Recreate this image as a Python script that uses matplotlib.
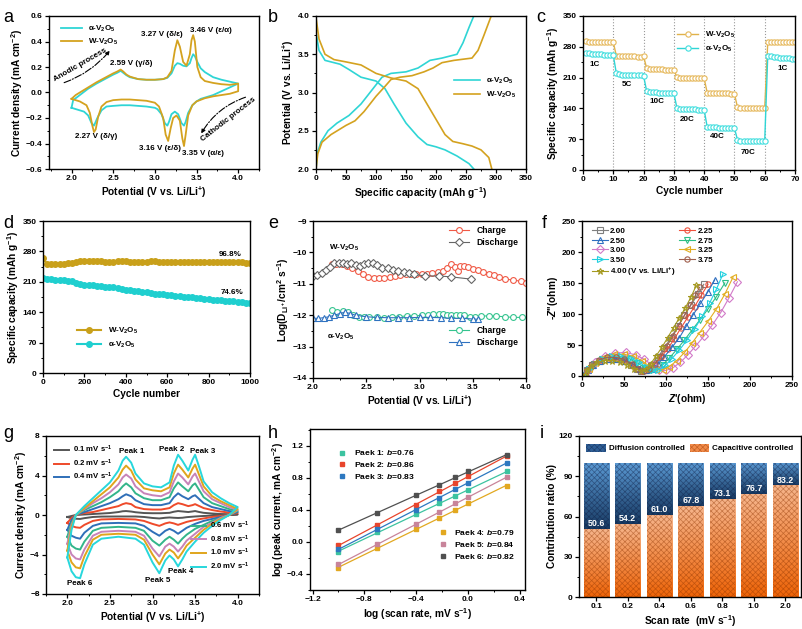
import numpy as np
import matplotlib
matplotlib.use('Agg')
import matplotlib.pyplot as plt
from matplotlib.patches import Patch
from matplotlib.colors import LinearSegmentedColormap
from matplotlib.ticker import AutoMinorLocator

plt.rcParams['font.family'] = ['Liberation Sans', 'DejaVu Sans']
plt.rcParams['font.weight'] = 'bold'
plt.rcParams['axes.labelweight'] = 'bold'
plt.rcParams['mathtext.fontset'] = 'custom'
plt.rcParams['mathtext.rm'] = 'Liberation Sans:bold'
plt.rcParams['mathtext.bf'] = 'Liberation Sans:bold'
plt.rcParams['mathtext.it'] = 'Liberation Sans:bold:italic'
plt.rcParams['mathtext.default'] = 'rm'
plt.rcParams['axes.linewidth'] = 1.0
plt.rcParams['hatch.linewidth'] = 0.5

CYAN = '#2fd5d5'
GOLD = '#d4a21f'

# ---------------- a: CV of the two samples ----------------
w_up_x = [2.0, 2.05, 2.1, 2.2, 2.3, 2.4, 2.5, 2.55, 2.59, 2.62, 2.66, 2.7, 2.8, 2.9, 3.0, 3.1, 3.15, 3.2, 3.24, 3.27, 3.3, 3.34, 3.38, 3.42, 3.44, 3.46, 3.48, 3.51, 3.55, 3.6, 3.7, 3.8, 3.9, 4.0]
w_up_y = [-0.05, -0.02, 0.0, 0.04, 0.08, 0.115, 0.15, 0.165, 0.18, 0.165, 0.14, 0.125, 0.105, 0.1, 0.1, 0.105, 0.12, 0.17, 0.33, 0.41, 0.36, 0.24, 0.21, 0.3, 0.41, 0.45, 0.4, 0.2, 0.12, 0.09, 0.075, 0.065, 0.06, 0.07]
w_dn_x = [4.0, 4.0, 3.9, 3.8, 3.7, 3.6, 3.5, 3.45, 3.4, 3.37, 3.35, 3.33, 3.3, 3.26, 3.22, 3.19, 3.16, 3.13, 3.1, 3.05, 3.0, 2.9, 2.8, 2.7, 2.6, 2.5, 2.42, 2.36, 2.32, 2.29, 2.27, 2.25, 2.22, 2.18, 2.1, 2.0]
w_dn_y = [0.07, 0.01, -0.01, -0.02, -0.03, -0.045, -0.07, -0.1, -0.18, -0.33, -0.42, -0.36, -0.22, -0.18, -0.2, -0.28, -0.38, -0.33, -0.2, -0.11, -0.08, -0.065, -0.06, -0.055, -0.055, -0.06, -0.075, -0.11, -0.19, -0.29, -0.31, -0.26, -0.16, -0.1, -0.07, -0.05]
a_up_x = [2.0, 2.02, 2.1, 2.2, 2.3, 2.4, 2.5, 2.55, 2.59, 2.62, 2.66, 2.7, 2.8, 2.9, 3.0, 3.1, 3.15, 3.2, 3.24, 3.27, 3.3, 3.34, 3.38, 3.42, 3.44, 3.46, 3.48, 3.51, 3.55, 3.6, 3.7, 3.8, 3.9, 4.0]
a_up_y = [-0.12, -0.06, -0.02, 0.03, 0.07, 0.105, 0.14, 0.155, 0.17, 0.155, 0.135, 0.12, 0.105, 0.1, 0.1, 0.105, 0.115, 0.15, 0.21, 0.23, 0.225, 0.21, 0.205, 0.23, 0.27, 0.3, 0.285, 0.24, 0.19, 0.16, 0.12, 0.1, 0.085, 0.07]
a_dn_x = [4.0, 3.9, 3.8, 3.7, 3.6, 3.55, 3.5, 3.45, 3.4, 3.37, 3.35, 3.32, 3.28, 3.24, 3.2, 3.17, 3.15, 3.12, 3.08, 3.03, 3.0, 2.9, 2.8, 2.7, 2.6, 2.5, 2.42, 2.36, 2.31, 2.27, 2.24, 2.2, 2.15, 2.1, 2.05, 2.0]
a_dn_y = [0.07, 0.04, 0.01, -0.02, -0.04, -0.05, -0.07, -0.1, -0.16, -0.23, -0.26, -0.24, -0.17, -0.15, -0.17, -0.23, -0.26, -0.24, -0.17, -0.13, -0.12, -0.11, -0.105, -0.1, -0.1, -0.105, -0.11, -0.14, -0.2, -0.26, -0.24, -0.18, -0.15, -0.14, -0.13, -0.12]

# ---------------- b: charge / discharge ----------------
b_wd_x = [0, 5, 15, 30, 50, 75, 100, 125, 150, 170, 185, 200, 215, 228, 245, 260, 275, 288, 293]
b_wd_y = [3.98, 3.7, 3.5, 3.43, 3.4, 3.36, 3.25, 3.19, 3.15, 3.05, 2.85, 2.65, 2.45, 2.36, 2.33, 2.3, 2.25, 2.15, 2.0]
b_wc_x = [0, 3, 10, 25, 50, 65, 80, 100, 115, 125, 140, 160, 180, 195, 210, 230, 260, 270, 280, 292]
b_wc_y = [2.0, 2.2, 2.35, 2.45, 2.57, 2.63, 2.75, 2.95, 3.08, 3.17, 3.2, 3.22, 3.27, 3.32, 3.39, 3.42, 3.45, 3.55, 3.75, 4.0]
b_ad_x = [0, 5, 15, 40, 55, 75, 100, 115, 130, 150, 170, 185, 200, 215, 235, 255, 263]
b_ad_y = [3.78, 3.55, 3.42, 3.37, 3.3, 3.2, 3.15, 3.05, 2.85, 2.6, 2.42, 2.32, 2.29, 2.25, 2.17, 2.07, 2.0]
b_ac_x = [0, 2, 8, 20, 35, 55, 75, 95, 110, 125, 150, 170, 190, 210, 235, 245, 255, 263]
b_ac_y = [2.0, 2.2, 2.35, 2.5, 2.6, 2.7, 2.85, 3.05, 3.2, 3.25, 3.27, 3.32, 3.42, 3.45, 3.5, 3.65, 3.85, 4.0]

# ---------------- c: rate performance ----------------
cycles_c = list(range(1, 71))
rate_w = [293, 292, 292, 292, 291, 291, 291, 291, 290, 290,
          260, 258, 258, 258, 258, 258, 258, 257, 257, 258,
          232, 229, 229, 229, 229, 229, 228, 228, 228, 228,
          211, 210, 210, 210, 209, 209, 209, 209, 209, 208,
          176, 175, 175, 174, 174, 174, 174, 174, 173, 173,
          143, 141, 141, 140, 140, 140, 140, 140, 140, 140,
          290, 292, 292, 292, 292, 292, 292, 292, 292, 292]
rate_a = [266, 265, 264, 264, 263, 263, 262, 262, 261, 261,
          220, 218, 217, 217, 216, 216, 215, 215, 215, 214,
          180, 178, 177, 177, 176, 176, 176, 175, 175, 175,
          141, 139, 138, 138, 138, 138, 138, 137, 137, 137,
          98, 97, 97, 97, 96, 96, 96, 96, 96, 95,
          69, 67, 67, 66, 66, 66, 66, 66, 66, 66,
          260, 258, 257, 256, 255, 255, 254, 254, 253, 252]
rate_labels = ['1C', '5C', '10C', '20C', '40C', '70C', '1C']
rate_lab_x = [4, 14.5, 24.5, 34.5, 44.5, 54.5, 66]
rate_lab_y = [240, 195, 155, 115, 75, 40, 230]

# ---------------- d: long cycling ----------------
cyc_d = list(range(0, 1001, 20))
cap_w = [265, 250, 250, 251, 252, 252, 253, 253, 255, 257, 257, 258, 258, 257, 257, 256, 256,
         256, 257, 258, 257, 256, 256, 256, 256, 256, 257, 257, 256, 256, 256, 256, 256, 256,
         255, 255, 256, 256, 256, 256, 256, 255, 255, 256, 256, 255, 255, 256, 255, 254, 253]
cap_a = [218, 217, 216, 215, 214, 213, 212, 211, 208, 204, 203, 203, 202, 201, 200, 199, 198,
         197, 196, 194, 192, 190, 189, 188, 187, 186, 185, 183, 182, 181, 180, 179, 178, 177,
         176, 175, 174, 173, 172, 171, 170, 169, 168, 167, 166, 166, 165, 164, 163, 162, 162]

# ---------------- e: diffusion coefficient ----------------
e_wc_x = [2.18, 2.22, 2.27, 2.32, 2.37, 2.42, 2.47, 2.52, 2.57, 2.62, 2.67, 2.72, 2.77, 2.82, 2.87, 2.92, 2.97, 3.02, 3.07, 3.12, 3.17, 3.22, 3.26, 3.3, 3.33, 3.36, 3.38, 3.42, 3.46, 3.5, 3.55, 3.6, 3.65, 3.7, 3.75, 3.8, 3.88, 3.95, 4.0]
e_wc_y = [-10.38, -10.37, -10.38, -10.42, -10.5, -10.58, -10.68, -10.78, -10.8, -10.8, -10.82, -10.78, -10.75, -10.72, -10.7, -10.7, -10.7, -10.68, -10.68, -10.65, -10.62, -10.58, -10.5, -10.38, -10.45, -10.6, -10.42, -10.42, -10.48, -10.52, -10.55, -10.62, -10.68, -10.72, -10.78, -10.85, -10.88, -10.92, -10.98]
e_wd_x = [2.0, 2.04, 2.08, 2.12, 2.16, 2.2, 2.24, 2.28, 2.32, 2.36, 2.4, 2.44, 2.48, 2.52, 2.56, 2.6, 2.65, 2.7, 2.75, 2.8, 2.85, 2.9, 2.95, 3.05, 3.18, 3.3, 3.48]
e_wd_y = [-10.75, -10.73, -10.65, -10.55, -10.45, -10.35, -10.33, -10.35, -10.38, -10.35, -10.4, -10.42, -10.38, -10.33, -10.35, -10.4, -10.5, -10.5, -10.55, -10.58, -10.62, -10.66, -10.7, -10.75, -10.75, -10.78, -10.85]
e_ac_x = [2.18, 2.23, 2.28, 2.33, 2.38, 2.43, 2.48, 2.53, 2.6, 2.67, 2.74, 2.81, 2.88, 2.95, 3.02, 3.08, 3.13, 3.18, 3.22, 3.26, 3.3, 3.34, 3.38, 3.42, 3.47, 3.52, 3.58, 3.65, 3.72, 3.8, 3.88, 3.96]
e_ac_y = [-11.82, -11.9, -11.88, -11.9, -12.0, -12.05, -12.07, -12.07, -12.07, -12.08, -12.05, -12.05, -12.02, -12.03, -12.0, -11.98, -11.97, -11.95, -11.97, -11.98, -11.98, -11.99, -11.98, -12.0, -12.05, -12.05, -12.03, -12.02, -12.03, -12.05, -12.07, -12.07]
e_ad_x = [2.0, 2.05, 2.1, 2.15, 2.2, 2.25, 2.3, 2.35, 2.4, 2.5, 2.6, 2.7, 2.8, 2.9, 3.0, 3.1, 3.2, 3.3, 3.4, 3.5, 3.55]
e_ad_y = [-12.1, -12.1, -12.08, -12.05, -12.0, -11.95, -11.9, -11.95, -12.0, -12.05, -12.07, -12.08, -12.08, -12.08, -12.07, -12.07, -12.08, -12.1, -12.1, -12.12, -12.13]

# ---------------- f: EIS ----------------
eis_labels = ['2.00', '2.25', '2.50', '2.75', '3.00', '3.25', '3.50', '3.75', '4.00 (V vs. Li/Li$^{+}$)']
eis_colors = ['#7f7f7f', '#f0503c', '#2f6fc0', '#2fbf86', '#d27ac8', '#e3ae22', '#22d0e0', '#a0604e', '#a59a22']
eis_markers = ['s', 'o', '^', 'v', 'D', '<', '>', 'o', '*']
eis_x = [
    [3, 6, 12, 20, 30, 40, 50, 58, 65, 70, 75, 82, 90, 98, 106, 114, 122, 130, 138, 145],
    [4, 7, 13, 21, 31, 41, 51, 59, 66, 72, 78, 86, 94, 102, 110, 118, 126, 134, 142, 150],
    [4, 7, 13, 22, 32, 42, 52, 61, 69, 76, 82, 90, 98, 107, 116, 124, 132, 141, 150, 158],
    [4, 8, 14, 24, 35, 46, 56, 66, 75, 82, 88, 96, 104, 113, 122, 131, 140, 150, 160, 170],
    [4, 8, 16, 27, 39, 52, 64, 74, 84, 92, 100, 108, 117, 126, 135, 145, 155, 165, 175, 185],
    [4, 8, 15, 26, 38, 50, 61, 71, 80, 88, 96, 104, 113, 122, 131, 140, 150, 160, 170, 180],
    [4, 8, 14, 25, 36, 47, 58, 68, 77, 84, 91, 99, 107, 116, 125, 134, 143, 152, 160, 168],
    [3, 6, 12, 20, 30, 40, 50, 59, 67, 74, 80, 87, 94, 101, 108, 115, 122, 129, 135, 140],
    [3, 6, 11, 18, 27, 36, 45, 54, 62, 70, 76, 82, 88, 95, 102, 109, 116, 123, 130, 136]]
eis_y = [
    [2, 10, 18, 24, 27, 27, 24, 18, 11, 8, 10, 18, 30, 45, 62, 80, 98, 115, 132, 148],
    [2, 10, 18, 24, 27, 27, 24, 18, 11, 8, 10, 18, 30, 44, 60, 78, 95, 112, 130, 148],
    [2, 10, 18, 25, 28, 28, 25, 19, 12, 9, 11, 19, 31, 46, 62, 80, 98, 117, 136, 155],
    [2, 11, 20, 27, 31, 31, 28, 21, 13, 9, 11, 18, 29, 43, 58, 74, 90, 108, 128, 150],
    [2, 12, 23, 32, 37, 38, 34, 27, 17, 10, 9, 13, 22, 34, 48, 64, 82, 102, 126, 152],
    [2, 11, 21, 30, 35, 35, 32, 25, 16, 10, 10, 15, 25, 38, 53, 70, 88, 108, 132, 160],
    [2, 11, 20, 28, 32, 32, 29, 22, 14, 9, 10, 17, 28, 42, 58, 76, 96, 118, 140, 165],
    [2, 10, 19, 26, 30, 30, 27, 20, 12, 8, 11, 20, 33, 48, 64, 81, 98, 114, 130, 143],
    [2, 9, 16, 22, 25, 25, 23, 18, 12, 8, 11, 20, 32, 46, 62, 78, 94, 110, 128, 146]]

# ---------------- g: CV at different scan rates ----------------
g_rates = ['0.1', '0.2', '0.4', '0.6', '0.8', '1.0', '2.0']
g_colors = ['#555555', '#ee4a2a', '#2f6fb8', '#33b58a', '#c783b8', '#e0a51c', '#27d7dc']
g_up_x = [2.0, 2.05, 2.1, 2.2, 2.3, 2.4, 2.5, 2.6, 2.65, 2.69, 2.75, 2.8, 2.9, 3.0, 3.1, 3.2, 3.25, 3.3, 3.35, 3.42, 3.47, 3.5, 3.55, 3.6, 3.7, 3.8, 3.9, 4.0]
g_up_y = [
    [-0.2, -0.1, 0.0, 0.05, 0.1, 0.15, 0.2, 0.3, 0.38, 0.4, 0.35, 0.28, 0.2, 0.18, 0.18, 0.22, 0.33, 0.4, 0.36, 0.3, 0.36, 0.4, 0.3, 0.22, 0.15, 0.1, 0.08, 0.06],
    [-0.8, -0.3, 0.0, 0.2, 0.3, 0.5, 0.7, 0.9, 1.1, 1.2, 1.1, 0.8, 0.6, 0.55, 0.55, 0.7, 1.0, 1.2, 1.1, 0.9, 1.0, 1.1, 0.9, 0.7, 0.5, 0.35, 0.25, 0.2],
    [-1.5, -0.5, 0.0, 0.3, 0.6, 0.9, 1.2, 1.6, 1.9, 2.1, 1.9, 1.5, 1.1, 1.0, 1.0, 1.2, 1.8, 2.2, 1.9, 1.6, 1.9, 2.0, 1.6, 1.2, 0.8, 0.6, 0.4, 0.3],
    [-2.2, -0.8, 0.0, 0.5, 0.9, 1.3, 1.8, 2.4, 2.9, 3.2, 2.8, 2.2, 1.7, 1.5, 1.5, 1.8, 2.7, 3.3, 2.9, 2.4, 3.0, 3.2, 2.5, 1.8, 1.2, 0.9, 0.6, 0.4],
    [-2.9, -1.0, 0.0, 0.6, 1.2, 1.7, 2.3, 3.1, 3.8, 4.1, 3.7, 2.9, 2.2, 2.0, 1.9, 2.3, 3.4, 4.2, 3.8, 3.1, 3.9, 4.2, 3.3, 2.4, 1.6, 1.2, 0.8, 0.5],
    [-3.6, -1.2, 0.0, 0.7, 1.4, 2.1, 2.8, 3.8, 4.6, 5.0, 4.5, 3.6, 2.7, 2.5, 2.4, 2.8, 4.2, 5.1, 4.6, 3.8, 4.7, 5.1, 4.0, 2.9, 1.9, 1.4, 1.0, 0.6],
    [-4.3, -1.5, 0.0, 0.9, 1.7, 2.5, 3.3, 4.5, 5.5, 5.9, 5.3, 4.2, 3.2, 2.9, 2.8, 3.3, 5.0, 6.1, 5.5, 4.5, 5.6, 6.1, 4.8, 3.4, 2.3, 1.7, 1.2, 0.8]]
g_dn_x = [4.0, 3.9, 3.8, 3.7, 3.6, 3.5, 3.4, 3.35, 3.3, 3.25, 3.2, 3.15, 3.08, 3.0, 2.9, 2.8, 2.6, 2.4, 2.3, 2.2, 2.15, 2.1, 2.05, 2.0]
g_dn_y = [
    [0.06, 0.0, -0.03, -0.06, -0.1, -0.15, -0.22, -0.28, -0.3, -0.28, -0.25, -0.28, -0.35, -0.3, -0.2, -0.15, -0.15, -0.16, -0.2, -0.32, -0.4, -0.38, -0.32, -0.2],
    [0.2, 0.0, -0.1, -0.2, -0.35, -0.5, -0.7, -0.85, -1.0, -0.85, -0.75, -0.85, -1.1, -0.9, -0.6, -0.45, -0.4, -0.45, -0.6, -1.0, -1.3, -1.25, -1.1, -0.8],
    [0.3, 0.0, -0.2, -0.4, -0.6, -0.9, -1.3, -1.6, -1.9, -1.6, -1.4, -1.6, -2.1, -1.7, -1.1, -0.85, -0.8, -0.85, -1.1, -1.8, -2.4, -2.3, -2.1, -1.5],
    [0.4, 0.0, -0.3, -0.6, -1.0, -1.4, -2.0, -2.4, -2.9, -2.5, -2.2, -2.5, -3.1, -2.6, -1.6, -1.3, -1.2, -1.3, -1.6, -2.7, -3.5, -3.4, -3.1, -2.2],
    [0.5, 0.0, -0.3, -0.8, -1.2, -1.9, -2.6, -3.2, -3.7, -3.2, -2.9, -3.2, -4.2, -3.4, -2.1, -1.7, -1.6, -1.7, -2.1, -3.5, -4.5, -4.4, -4.0, -2.9],
    [0.6, 0.0, -0.4, -0.9, -1.5, -2.3, -3.1, -3.8, -4.4, -3.8, -3.5, -3.9, -5.0, -4.0, -2.5, -2.0, -1.9, -2.0, -2.5, -4.2, -5.4, -5.3, -4.8, -3.6],
    [0.8, 0.0, -0.5, -1.1, -1.8, -2.7, -3.7, -4.5, -5.2, -4.5, -4.1, -4.6, -5.9, -4.8, -3.0, -2.4, -2.2, -2.4, -3.0, -5.0, -6.4, -6.3, -5.7, -4.3]]

# ---------------- h: log(i) vs log(v) ----------------
log_v = [-1.0, -0.699, -0.398, -0.222, -0.097, 0.0, 0.301]
h_names = ['Paek 1', 'Paek 2', 'Paek 3', 'Paek 4', 'Paek 5', 'Paek 6']
h_b = ['0.76', '0.86', '0.83', '0.79', '0.84', '0.82']
h_colors = ['#3cc3a0', '#e8452c', '#2d78c0', '#e2a820', '#c8849a', '#505050']
h_logi = [
    [-0.12, 0.12, 0.35, 0.48, 0.57, 0.65, 0.88],
    [-0.04, 0.21, 0.46, 0.63, 0.74, 0.82, 1.07],
    [-0.09, 0.16, 0.40, 0.55, 0.66, 0.74, 0.99],
    [-0.32, -0.08, 0.16, 0.30, 0.40, 0.48, 0.70],
    [-0.28, -0.03, 0.22, 0.37, 0.48, 0.56, 0.81],
    [0.15, 0.36, 0.58, 0.71, 0.81, 0.89, 1.08]]

# ---------------- i: contribution ratio ----------------
scan_rates = ['0.1', '0.2', '0.4', '0.6', '0.8', '1.0', '2.0']
capacitive = [50.6, 54.2, 61.0, 67.8, 73.1, 76.7, 83.2]

TICK = 6.0
LAB = 7.3
TXT = 5.8


def px_axes(fig, l, t, r, b):
    return fig.add_axes([l / 802, 1 - b / 629, (r - l) / 802, (b - t) / 629])


def style(ax):
    ax.tick_params(which='major', direction='out', length=3, width=0.9, labelsize=TICK, pad=1.5)
    ax.tick_params(which='minor', direction='out', length=1.6, width=0.7)
    ax.xaxis.set_minor_locator(AutoMinorLocator(2))
    ax.yaxis.set_minor_locator(AutoMinorLocator(2))
    for lab in ax.get_xticklabels() + ax.get_yticklabels():
        lab.set_fontweight('bold')


fig = plt.figure(figsize=(8.02, 6.29), dpi=100)

# panel a
ax = px_axes(fig, 49, 16, 259, 169)
ax.plot(a_up_x + a_dn_x, a_up_y + a_dn_y, color=CYAN, lw=1.3, label=r'α-V$_2$O$_5$')
ax.plot(w_up_x + w_dn_x, w_up_y + w_dn_y, color=GOLD, lw=1.3, label=r'W-V$_2$O$_5$')
ax.set_xlim(1.73, 4.25)
ax.set_ylim(-0.6, 0.6)
ax.set_xticks([2.0, 2.5, 3.0, 3.5, 4.0])
ax.set_yticks(np.arange(-0.6, 0.61, 0.2))
ax.set_xlabel(r'Potential (V vs. Li/Li$^{+}$)', fontsize=LAB, labelpad=2)
ax.set_ylabel(r'Current density (mA cm$^{-2}$)', fontsize=LAB, labelpad=1)
style(ax)
ax.legend(loc='upper left', bbox_to_anchor=(0.04, 0.97), frameon=False, fontsize=TXT,
          handlelength=2.6, labelspacing=0.3, borderaxespad=0)
for s, x, y in [('3.27 V (δ/ε)', 3.08, 0.455), ('3.46 V (ε/α)', 3.67, 0.49), ('2.59 V (γ/δ)', 2.72, 0.228),
                ('2.27 V (δ/γ)', 2.30, -0.345), ('3.16 V (ε/δ)', 3.06, -0.436), ('3.35 V (α/ε)', 3.58, -0.48)]:
    ax.text(x, y, s, fontsize=TXT, ha='center', va='center')
ax.text(2.11, 0.215, 'Anodic process', fontsize=TXT, rotation=30, ha='center', va='center')
ax.annotate('', xy=(2.48, 0.345), xytext=(1.88, 0.07),
            arrowprops=dict(arrowstyle='-|>', lw=0.8, ls='-.', color='k', mutation_scale=6,
                            connectionstyle='arc3,rad=0.15'))
ax.text(3.88, -0.21, 'Cathodic process', fontsize=TXT, rotation=38, ha='center', va='center')
ax.annotate('', xy=(3.54, -0.34), xytext=(4.12, -0.03),
            arrowprops=dict(arrowstyle='-|>', lw=0.8, ls='-.', color='k', mutation_scale=6,
                            connectionstyle='arc3,rad=0.2'))

# panel b
ax = px_axes(fig, 316, 16, 526, 169)
ax.plot(b_ad_x, b_ad_y, color=CYAN, lw=1.2, label=r'α-V$_2$O$_5$')
ax.plot(b_ac_x, b_ac_y, color=CYAN, lw=1.2)
ax.plot(b_wd_x, b_wd_y, color=GOLD, lw=1.2, label=r'W-V$_2$O$_5$')
ax.plot(b_wc_x, b_wc_y, color=GOLD, lw=1.2)
ax.set_xlim(0, 350)
ax.set_ylim(2.0, 4.0)
ax.set_xticks(range(0, 351, 50))
ax.set_yticks([2.0, 2.5, 3.0, 3.5, 4.0])
ax.set_xlabel(r'Specific capacity (mAh g$^{-1}$)', fontsize=LAB, labelpad=2)
ax.set_ylabel(r'Potential (V vs. Li/Li$^{+}$)', fontsize=LAB, labelpad=1)
style(ax)
ax.legend(loc='center right', bbox_to_anchor=(0.97, 0.53), frameon=False, fontsize=TXT,
          handlelength=3.2, labelspacing=0.5, borderaxespad=0)

# panel c
ax = px_axes(fig, 583, 16, 795, 170)
for xv in range(10, 70, 10):
    ax.axvline(xv, color='#999999', lw=0.8, ls=':')
ax.plot(cycles_c, rate_w, color='#e0b24a', lw=1.0, marker='o', ms=3.8, mfc='white',
        mec='#e6b85a', mew=0.8, label=r'W-V$_2$O$_5$')
ax.plot(cycles_c, rate_a, color=CYAN, lw=1.0, marker='o', ms=3.8, mfc='white',
        mec='#3fdede', mew=0.8, label=r'α-V$_2$O$_5$')
for s, x, y in zip(rate_labels, rate_lab_x, rate_lab_y):
    ax.text(x, y, s, fontsize=TXT, ha='center', va='center')
ax.set_xlim(0, 70)
ax.set_ylim(0, 350)
ax.set_xticks(range(0, 71, 10))
ax.set_yticks(range(0, 351, 70))
ax.set_xlabel('Cycle number', fontsize=LAB, labelpad=2)
ax.set_ylabel(r'Specific capacity (mAh g$^{-1}$)', fontsize=LAB, labelpad=1)
style(ax)
ax.legend(loc='upper left', bbox_to_anchor=(0.43, 0.93), frameon=False, fontsize=TXT,
          handlelength=2.6, labelspacing=0.4, borderaxespad=0)

# panel d
ax = px_axes(fig, 43, 221, 250, 373)
ax.plot(cyc_d, cap_w, color='#c9a01a', lw=1.5, marker='o', ms=4.0, mec='#c9a01a', label=r'W-V$_2$O$_5$')
ax.plot(cyc_d, cap_a, color='#1fcfcf', lw=1.5, marker='o', ms=4.0, mec='#1fcfcf', label=r'α-V$_2$O$_5$')
ax.text(903, 274, '96.8%', fontsize=TXT, ha='center', va='center')
ax.text(911, 186, '74.6%', fontsize=TXT, ha='center', va='center')
ax.set_xlim(0, 1000)
ax.set_ylim(0, 350)
ax.set_xticks(range(0, 1001, 200))
ax.set_yticks(range(0, 351, 70))
ax.set_xlabel('Cycle number', fontsize=LAB, labelpad=2)
ax.set_ylabel(r'Specific capacity (mAh g$^{-1}$)', fontsize=LAB, labelpad=1)
style(ax)
ax.legend(loc='upper left', bbox_to_anchor=(0.15, 0.33), frameon=False, fontsize=TXT,
          handlelength=3.0, labelspacing=0.5, borderaxespad=0)

# panel e
ax = px_axes(fig, 313, 221, 526, 378)
l1, = ax.plot(e_wc_x, e_wc_y, color='#f05a46', lw=0.8, marker='o', ms=4.2, mfc='white', mew=0.8, label='Charge')
l2, = ax.plot(e_wd_x, e_wd_y, color='#666666', lw=0.8, marker='D', ms=3.6, mfc='white', mew=0.8, label='Discharge')
l3, = ax.plot(e_ac_x, e_ac_y, color='#35c48f', lw=0.8, marker='o', ms=4.2, mfc='white', mew=0.8, label='Charge')
l4, = ax.plot(e_ad_x, e_ad_y, color='#2f72c0', lw=0.8, marker='^', ms=4.2, mfc='white', mew=0.8, label='Discharge')
ax.text(2.29, -9.86, r'W-V$_2$O$_5$', fontsize=TXT, ha='center', va='center')
ax.text(2.26, -12.68, r'α-V$_2$O$_5$', fontsize=TXT, ha='center', va='center')
ax.set_xlim(2.0, 4.0)
ax.set_ylim(-14, -9)
ax.set_xticks([2.0, 2.5, 3.0, 3.5, 4.0])
ax.set_yticks(range(-14, -8))
ax.set_xlabel(r'Potential (V vs. Li/Li$^{+}$)', fontsize=LAB, labelpad=2)
ax.set_ylabel(r'Log(D$_{Li^+}$/cm$^{2}$ s$^{-1}$)', fontsize=LAB, labelpad=1)
style(ax)
leg1 = ax.legend(handles=[l1, l2], loc='upper right', bbox_to_anchor=(0.98, 0.99), frameon=False,
                 fontsize=TXT + 0.4, handlelength=2.4, labelspacing=0.3, borderaxespad=0)
ax.add_artist(leg1)
ax.legend(handles=[l3, l4], loc='upper right', bbox_to_anchor=(0.98, 0.35), frameon=False,
          fontsize=TXT + 0.4, handlelength=2.4, labelspacing=0.3, borderaxespad=0)

# panel f
ax = px_axes(fig, 582, 221, 792, 376)
for xs, ys, lab, c, m in zip(eis_x, eis_y, eis_labels, eis_colors, eis_markers):
    ax.plot(xs, ys, color=c, lw=0.8, marker=m, ms=3.8 if m != '*' else 4.8, mfc='none', mew=0.8, label=lab)
ax.set_xlim(0, 250)
ax.set_ylim(0, 250)
ax.set_xticks(range(0, 251, 50))
ax.set_yticks(range(0, 251, 50))
ax.set_xlabel(r"$\mathit{Z}$'(ohm)", fontsize=LAB, labelpad=2)
ax.set_ylabel(r"-$\mathit{Z}$''(ohm)", fontsize=LAB, labelpad=1)
style(ax)
h, lb = ax.get_legend_handles_labels()
order = [0, 2, 4, 6, 8, 1, 3, 5, 7]
ax.legend([h[i] for i in order], [lb[i] for i in order], ncol=2, loc='upper left',
          bbox_to_anchor=(0.03, 0.98), frameon=False, fontsize=TXT, handlelength=2.0,
          labelspacing=0.25, columnspacing=0.4, handletextpad=0.3, borderaxespad=0)

# panel g
ax = px_axes(fig, 46, 436, 259, 594)
glines = []
for i in range(len(g_rates)):
    ln, = ax.plot(g_up_x + g_dn_x, g_up_y[i] + g_dn_y[i], color=g_colors[i], lw=1.4,
                  label=g_rates[i] + r' mV s$^{-1}$')
    glines.append(ln)
for s, x, y in [('Peak 1', 2.76, 6.45), ('Peak 2', 3.22, 6.6), ('Peak 3', 3.59, 6.45),
                ('Peak 4', 3.33, -5.7), ('Peak 5', 3.06, -6.6), ('Peak 6', 2.15, -6.9)]:
    ax.text(x, y, s, fontsize=TXT, ha='center', va='center')
ax.set_xlim(1.75, 4.25)
ax.set_ylim(-8, 8)
ax.set_xticks([2.0, 2.5, 3.0, 3.5, 4.0])
ax.set_yticks(range(-8, 9, 4))
ax.set_xlabel(r'Potential (V vs. Li/Li$^{+}$)', fontsize=LAB, labelpad=2)
ax.set_ylabel(r'Current density (mA cm$^{-2}$)', fontsize=LAB, labelpad=1)
style(ax)
leg1 = ax.legend(handles=glines[:3], loc='upper left', bbox_to_anchor=(0.025, 0.97), frameon=False,
                 fontsize=TXT - 0.2, handlelength=1.9, handletextpad=0.5, labelspacing=0.3, borderaxespad=0)
ax.add_artist(leg1)
ax.legend(handles=glines[3:], loc='lower right', bbox_to_anchor=(0.97, 0.12), frameon=False,
          fontsize=TXT - 0.2, handlelength=1.9, handletextpad=0.5, labelspacing=0.3, borderaxespad=0)

# panel h
ax = px_axes(fig, 310, 429, 525, 590)
hpts = []
for i in range(6):
    k, b0 = np.polyfit(log_v, h_logi[i], 1)
    ax.plot([log_v[0], log_v[-1]], [k * log_v[0] + b0, k * log_v[-1] + b0], color=h_colors[i], lw=0.9)
    p, = ax.plot(log_v, h_logi[i], ls='none', marker='s', ms=3.4, color=h_colors[i],
                 label=h_names[i] + r': $\mathit{b}$=' + h_b[i])
    hpts.append(p)
ax.set_xlim(-1.22, 0.44)
ax.set_ylim(-0.6, 1.41)
ax.set_xticks([-1.2, -0.8, -0.4, 0.0, 0.4])
ax.set_yticks([-0.4, 0.0, 0.4, 0.8, 1.2])
ax.set_xlabel(r'log (scan rate, mV s$^{-1}$)', fontsize=LAB, labelpad=2)
ax.set_ylabel(r'log (peak current, mA cm$^{-2}$)', fontsize=LAB, labelpad=1)
style(ax)
leg1 = ax.legend(handles=hpts[:3], loc='upper left', bbox_to_anchor=(0.11, 0.9), frameon=False,
                 fontsize=TXT + 0.3, handlelength=1.2, labelspacing=0.35, borderaxespad=0)
ax.add_artist(leg1)
ax.legend(handles=hpts[3:], loc='lower right', bbox_to_anchor=(0.97, 0.16), frameon=False,
          fontsize=TXT + 0.3, handlelength=1.2, labelspacing=0.35, borderaxespad=0)

# panel i
ax = px_axes(fig, 579, 436, 801, 597)
xi = np.arange(len(scan_rates))
diffusion = [100 - c for c in capacitive]
cmap_cap = LinearSegmentedColormap.from_list('cap', ['#ee6408', '#f6b58c'])
cmap_dif = LinearSegmentedColormap.from_list('dif', ['#183a62', '#5b9ad4'])
grad = np.linspace(0, 1, 128).reshape(-1, 1)
bars_c = ax.bar(xi, capacitive, width=0.8, color='none', edgecolor=(0.55, 0.2, 0.0, 0.45),
                hatch='xxxxxx', linewidth=0, zorder=2)
bars_d = ax.bar(xi, diffusion, bottom=capacitive, width=0.8, color='none',
                edgecolor=(0.05, 0.1, 0.25, 0.45), hatch='xxxxxx', linewidth=0, zorder=2)
for bars, cm in [(bars_c, cmap_cap), (bars_d, cmap_dif)]:
    for pt in bars:
        x0, y0 = pt.get_x(), pt.get_y()
        im = ax.imshow(grad, extent=[x0, x0 + pt.get_width(), y0, y0 + pt.get_height()],
                       origin='lower', aspect='auto', cmap=cm, zorder=1)
        im.set_clip_path(pt)
for x, c in zip(xi, capacitive):
    ax.text(x, c + 4, '%.1f' % c, color='white', fontsize=TXT + 0.6, ha='center', va='center', zorder=3)
ax.set_xlim(-0.55, 6.5)
ax.set_ylim(0, 120)
ax.set_xticks(xi)
ax.set_xticklabels(scan_rates)
ax.set_yticks(range(0, 121, 30))
ax.set_xlabel(r'Scan rate  (mV s$^{-1}$)', fontsize=LAB, labelpad=2)
ax.set_ylabel('Contribution ratio (%)', fontsize=LAB, labelpad=1)
style(ax)
ax.xaxis.set_minor_locator(plt.NullLocator())
ax.legend(handles=[Patch(facecolor='#2f5f96', hatch='xxxxxx', edgecolor=(0.05, 0.1, 0.25, 0.45), lw=0),
                   Patch(facecolor='#f28a48', hatch='xxxxxx', edgecolor=(0.55, 0.2, 0.0, 0.45), lw=0)],
          labels=['Diffusion controlled', 'Capacitive controlled'], ncol=2, loc='center',
          bbox_to_anchor=(0.5, 0.925), frameon=False, fontsize=TXT, handlelength=2.4,
          handleheight=1.2, columnspacing=0.6, handletextpad=0.4, borderaxespad=0)

# panel letters
for s, x, y in [('a', 3, 18), ('b', 268, 18), ('c', 536, 18), ('d', 3, 224), ('e', 268, 224),
                ('f', 542, 224), ('g', 3, 433), ('h', 268, 433), ('i', 540, 433)]:
    fig.text(x / 802, 1 - y / 629, s, fontsize=13, fontweight='normal', ha='left', va='center')

fig.savefig('out.png', dpi=100)
